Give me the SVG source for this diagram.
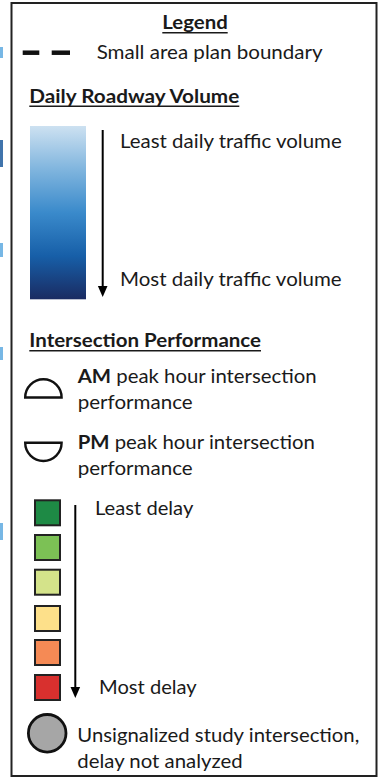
<svg xmlns="http://www.w3.org/2000/svg" width="391" height="784" viewBox="0 0 391 784">
<style>
  text { font-family: Lato, "Liberation Sans", sans-serif; font-size: 18.8px; fill: #1a1a1a; }
  .b { font-weight: bold; }
  .ul { stroke: #1a1a1a; stroke-width: 1.6; }
  .sq { stroke: #222; stroke-width: 2; }
  .arr { stroke: #000; stroke-width: 2; fill: none; }
  .edge { fill: #4a9fdc; opacity: 0.75; }
</style>
<defs>
  <linearGradient id="vol" x1="0" y1="0" x2="0" y2="1">
    <stop offset="0" stop-color="#cde1f1"/>
    <stop offset="0.25" stop-color="#80b5de"/>
    <stop offset="0.5" stop-color="#3a8acb"/>
    <stop offset="0.75" stop-color="#175fa8"/>
    <stop offset="1" stop-color="#1a2b62"/>
  </linearGradient>
</defs>
<rect width="391" height="784" fill="#ffffff"/>
<g id="map-edge">
  <rect class="edge" x="0" y="47" width="3" height="11"/>
  <rect x="0" y="140" width="3" height="27" fill="#1f5c9e" opacity="0.85"/>
  <rect class="edge" x="0" y="243" width="3" height="14" opacity="0.5"/>
  <rect class="edge" x="0" y="347" width="3" height="13"/>
  <rect class="edge" x="0" y="523" width="3" height="17" opacity="0.5"/>
</g>
<g id="legend-frame">
  <rect x="11.5" y="3" width="365" height="773" fill="#ffffff" stroke="#222" stroke-width="2"/>
</g>
<g id="title">
  <text class="b" x="162.3" y="29.3" textLength="65.4" lengthAdjust="spacingAndGlyphs">Legend</text>
  <line class="ul" x1="162.3" y1="32.8" x2="227.7" y2="32.8"/>
</g>
<g id="boundary">
  <line x1="22.7" y1="52.7" x2="39.3" y2="52.7" stroke="#111" stroke-width="4.5"/>
  <line x1="51.7" y1="52.7" x2="70" y2="52.7" stroke="#111" stroke-width="4.5"/>
  <text x="96.7" y="59.3" textLength="226" lengthAdjust="spacingAndGlyphs">Small area plan boundary</text>
</g>
<g id="volume-heading">
  <text class="b" x="29.3" y="102.7" textLength="210" lengthAdjust="spacingAndGlyphs">Daily Roadway Volume</text>
  <line class="ul" x1="29.3" y1="106.3" x2="239.3" y2="106.3"/>
</g>
<g id="volume-scale">
  <rect x="30" y="126" width="56" height="173.3" fill="url(#vol)"/>
  <text x="120" y="148.3" textLength="221.7" lengthAdjust="spacingAndGlyphs">Least daily traffic volume</text>
  <text x="120" y="285.7" textLength="221.7" lengthAdjust="spacingAndGlyphs">Most daily traffic volume</text>
</g>
<g id="perf-heading">
  <text class="b" x="29.3" y="346.7" textLength="231.7" lengthAdjust="spacingAndGlyphs">Intersection Performance</text>
  <line class="ul" x1="29.3" y1="350.7" x2="261" y2="350.7"/>
</g>
<g id="am">
  <path d="M25.2 397.5 A18.2 18.2 0 0 1 61.6 397.5 Z" fill="none" stroke="#111" stroke-width="2.4"/>
  <text x="77.7" y="382.7" textLength="239" lengthAdjust="spacingAndGlyphs"><tspan class="b">AM</tspan> peak hour intersection</text>
  <text x="77.7" y="409.3" textLength="115" lengthAdjust="spacingAndGlyphs">performance</text>
</g>
<g id="pm">
  <path d="M25.2 442.8 A18.2 18.2 0 0 0 61.6 442.8 Z" fill="none" stroke="#111" stroke-width="2.4"/>
  <text x="77.7" y="449.3" textLength="237.3" lengthAdjust="spacingAndGlyphs"><tspan class="b">PM</tspan> peak hour intersection</text>
  <text x="77.7" y="475.3" textLength="115" lengthAdjust="spacingAndGlyphs">performance</text>
</g>
<g id="delay-scale">
  <rect class="sq" x="35" y="500.3" width="25" height="25" fill="#1e8a45"/>
  <rect class="sq" x="35" y="535" width="25" height="25" fill="#7cc155"/>
  <rect class="sq" x="35" y="569.7" width="25" height="25" fill="#d4e38a"/>
  <rect class="sq" x="35" y="606" width="25" height="25" fill="#fde08a"/>
  <rect class="sq" x="35" y="640" width="25" height="25" fill="#f58a55"/>
  <rect class="sq" x="35" y="675" width="25" height="25" fill="#d8302e"/>
  <text x="95" y="515" textLength="98.3" lengthAdjust="spacingAndGlyphs">Least delay</text>
  <text x="99" y="694" textLength="97.7" lengthAdjust="spacingAndGlyphs">Most delay</text>
</g>
<g id="unsignalized">
  <circle cx="47.2" cy="733.3" r="18.8" fill="#a6a6a6" stroke="#111" stroke-width="2.8"/>
  <text x="77.3" y="741.7" textLength="282" lengthAdjust="spacingAndGlyphs">Unsignalized study intersection,</text>
  <text x="77.3" y="767.7" textLength="165.4" lengthAdjust="spacingAndGlyphs">delay not analyzed</text>
</g>
<g id="connectors">
  <line class="arr" x1="102.7" y1="130" x2="102.7" y2="288"/>
  <polygon points="97.9,286 107.5,286 102.7,297" fill="#000"/>
  <line class="arr" x1="75.3" y1="505" x2="75.3" y2="689"/>
  <polygon points="70.5,687 80.1,687 75.3,698" fill="#000"/>
</g>
</svg>
